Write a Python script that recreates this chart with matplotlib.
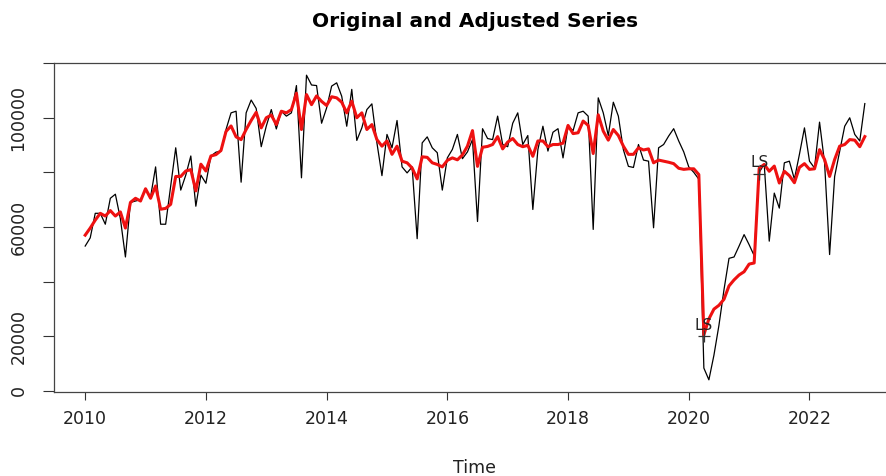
import numpy as np
import matplotlib
matplotlib.use('Agg')
import matplotlib.pyplot as plt

# monthly series, Jan 2010 - Dec 2022 (values in thousands)
start_year = 2010
original = np.array([
    53, 56, 65, 65, 61, 70.5, 72, 63, 49, 69, 69.5, 70,
    73.7, 71, 82, 61, 61, 75, 89, 73.5, 79, 86, 67.6, 79,
    76, 86, 87.4, 87.8, 95.7, 101.8, 102.4, 76.4, 101.8, 106.5, 103.4, 89.4,
    96.9, 103, 95.9, 102.4, 100.6, 101.8, 111.8, 78, 115.6, 112, 111.8, 98,
    103.6, 111.6, 112.8, 107.9, 96.9, 110.4, 91.7, 96.3, 103, 105.1, 90.8, 78.8,
    93.9, 89, 99, 82, 79.8, 82, 55.7, 90.8, 93, 89, 87.2, 73.5,
    85.3, 88.4, 93.9, 85, 87.5, 92, 62, 96, 92.4, 92, 100.6, 90.2,
    89.4, 98, 101.8, 90.2, 93.5, 66.4, 88.3, 96.9, 87.8, 94.7, 96, 85.3,
    96.9, 95.3, 101.8, 102.4, 100.6, 59.1, 107.3, 101.8, 93.5, 105.7, 100.6, 88.3,
    82.2, 81.8, 90.2, 84.5, 84.1, 59.7, 89, 90.2, 93.3, 96, 91.5, 87.5,
    82, 80, 77.5, 8.3, 4.0, 13, 24, 37, 48.5, 49, 53, 57.2,
    53.5, 49.5, 80, 83, 54.8, 72.4, 66.9, 83.5, 84.1, 77.5, 86.6, 96.3,
    84.1, 81.6, 98.4, 83.5, 49.9, 78.5, 87.8, 96.9, 100, 93.9, 91.5, 105.2,
]) * 1000
adjusted = np.array([
    57, 59.6, 62.5, 65, 64, 66, 64, 65.5, 59.6, 69, 70.5, 69.5,
    74, 70.5, 75, 66.5, 66.8, 68.3, 78.5, 78.5, 80.5, 81, 73.2, 83,
    80.5, 86, 86.5, 88, 95, 97, 93, 92, 95.7, 99, 102, 96.3,
    100, 101, 97.5, 102.4, 101.8, 103, 109, 95.7, 108.5, 104.8, 108, 106,
    104.5, 107.7, 107.3, 105.7, 101.8, 106.1, 100, 101.8, 95.7, 97.5, 92, 89.6,
    91.5, 86.6, 89.6, 84.1, 83.5, 81.6, 77.6, 85.7, 85.5, 83.5, 82.9, 82,
    84.4, 85.3, 84.6, 86.4, 89.6, 95.3, 82.2, 89.2, 89.5, 90.2, 93.1, 88.6,
    91.1, 92.4, 90.2, 89.4, 89.9, 85.9, 91.5, 91.5, 89.4, 90.2, 90.2, 90.7,
    97.2, 94.2, 94.5, 98.8, 97.2, 86.9, 101.1, 95.1, 91.8, 95.7, 93.5, 89.6,
    86.6, 86.6, 89.0, 88.2, 88.6, 83.5, 84.5, 84.1, 83.7, 83.2, 81.5, 81.1,
    81.3, 81.3, 79.2, 20.5, 26.3, 29.9, 31.3, 33.5, 38.4, 40.6, 42.4, 43.6,
    46.4, 46.8, 81.5, 82.9, 80.4, 82.3, 76.1, 80.4, 78.8, 76.2, 81.8, 83.2,
    81.1, 81.3, 88.3, 84.7, 78.5, 84.7, 89.6, 90.2, 92.0, 91.8, 89.4, 93.1,
]) * 1000

# level shift outliers
outlier_dates = [2020 + 3/12, 2021 + 2/12]
outlier_vals = [20000, 79500]
outlier_labels = ['LS', 'LS']

xticks = [2010, 2012, 2014, 2016, 2018, 2020, 2022]
yticks = [0, 20000, 40000, 60000, 80000, 100000, 120000]
ytick_labels = ['0', '20000', '', '60000', '', '100000', '']

t = start_year + np.arange(len(original)) / 12.

plt.rcParams['font.family'] = ['DejaVu Sans']

fig = plt.figure(figsize=(8.87, 4.76), dpi=100)
W, H = 887., 476.
ax = fig.add_axes([54/W, 84/H, 842/W, 329/H])

ax.plot(t, original, color='black', lw=0.9)
ax.plot(t, adjusted, color='#ee1111', lw=2.2)
ax.plot(outlier_dates, outlier_vals, linestyle='none', marker='+',
        color='#333333', markersize=9, markeredgewidth=0.9)
for xd, yv, lab in zip(outlier_dates, outlier_vals, outlier_labels):
    ax.annotate(lab, (xd, yv), xytext=(0, 8), textcoords='offset points',
                ha='center', va='center', fontsize=11, color='#222222')

# R-style 4% axis extension
xr = t[-1] - t[0]
ax.set_xlim(t[0] - 0.04*xr, t[-1] + 0.04*xr)
ymin = min(original.min(), adjusted.min())
ymax = max(original.max(), adjusted.max())
yrg = ymax - ymin
ax.set_ylim(ymin - 0.04*yrg, ymax + 0.04*yrg)

ax.set_xticks(xticks)
ax.set_xticklabels([str(x) for x in xticks], fontsize=12.5)
ax.set_yticks(yticks)
ax.set_yticklabels(ytick_labels, rotation=90, va='center', fontsize=12.5)
ax.tick_params(axis='x', length=6, width=0.8, pad=7, colors='#333333', labelcolor='#222222')
ax.tick_params(axis='y', length=8, width=0.8, pad=11, colors='#333333', labelcolor='#222222')
for s in ax.spines.values():
    s.set_linewidth(0.9)
    s.set_color('#444444')
ax.spines['right'].set_visible(False)

ax.set_xlabel('Time', fontsize=12.5, labelpad=22, color='#222222')
ax.set_title('Original and Adjusted Series', fontsize=14.5, fontweight='bold', pad=26)

fig.savefig('out.png', dpi=100)
